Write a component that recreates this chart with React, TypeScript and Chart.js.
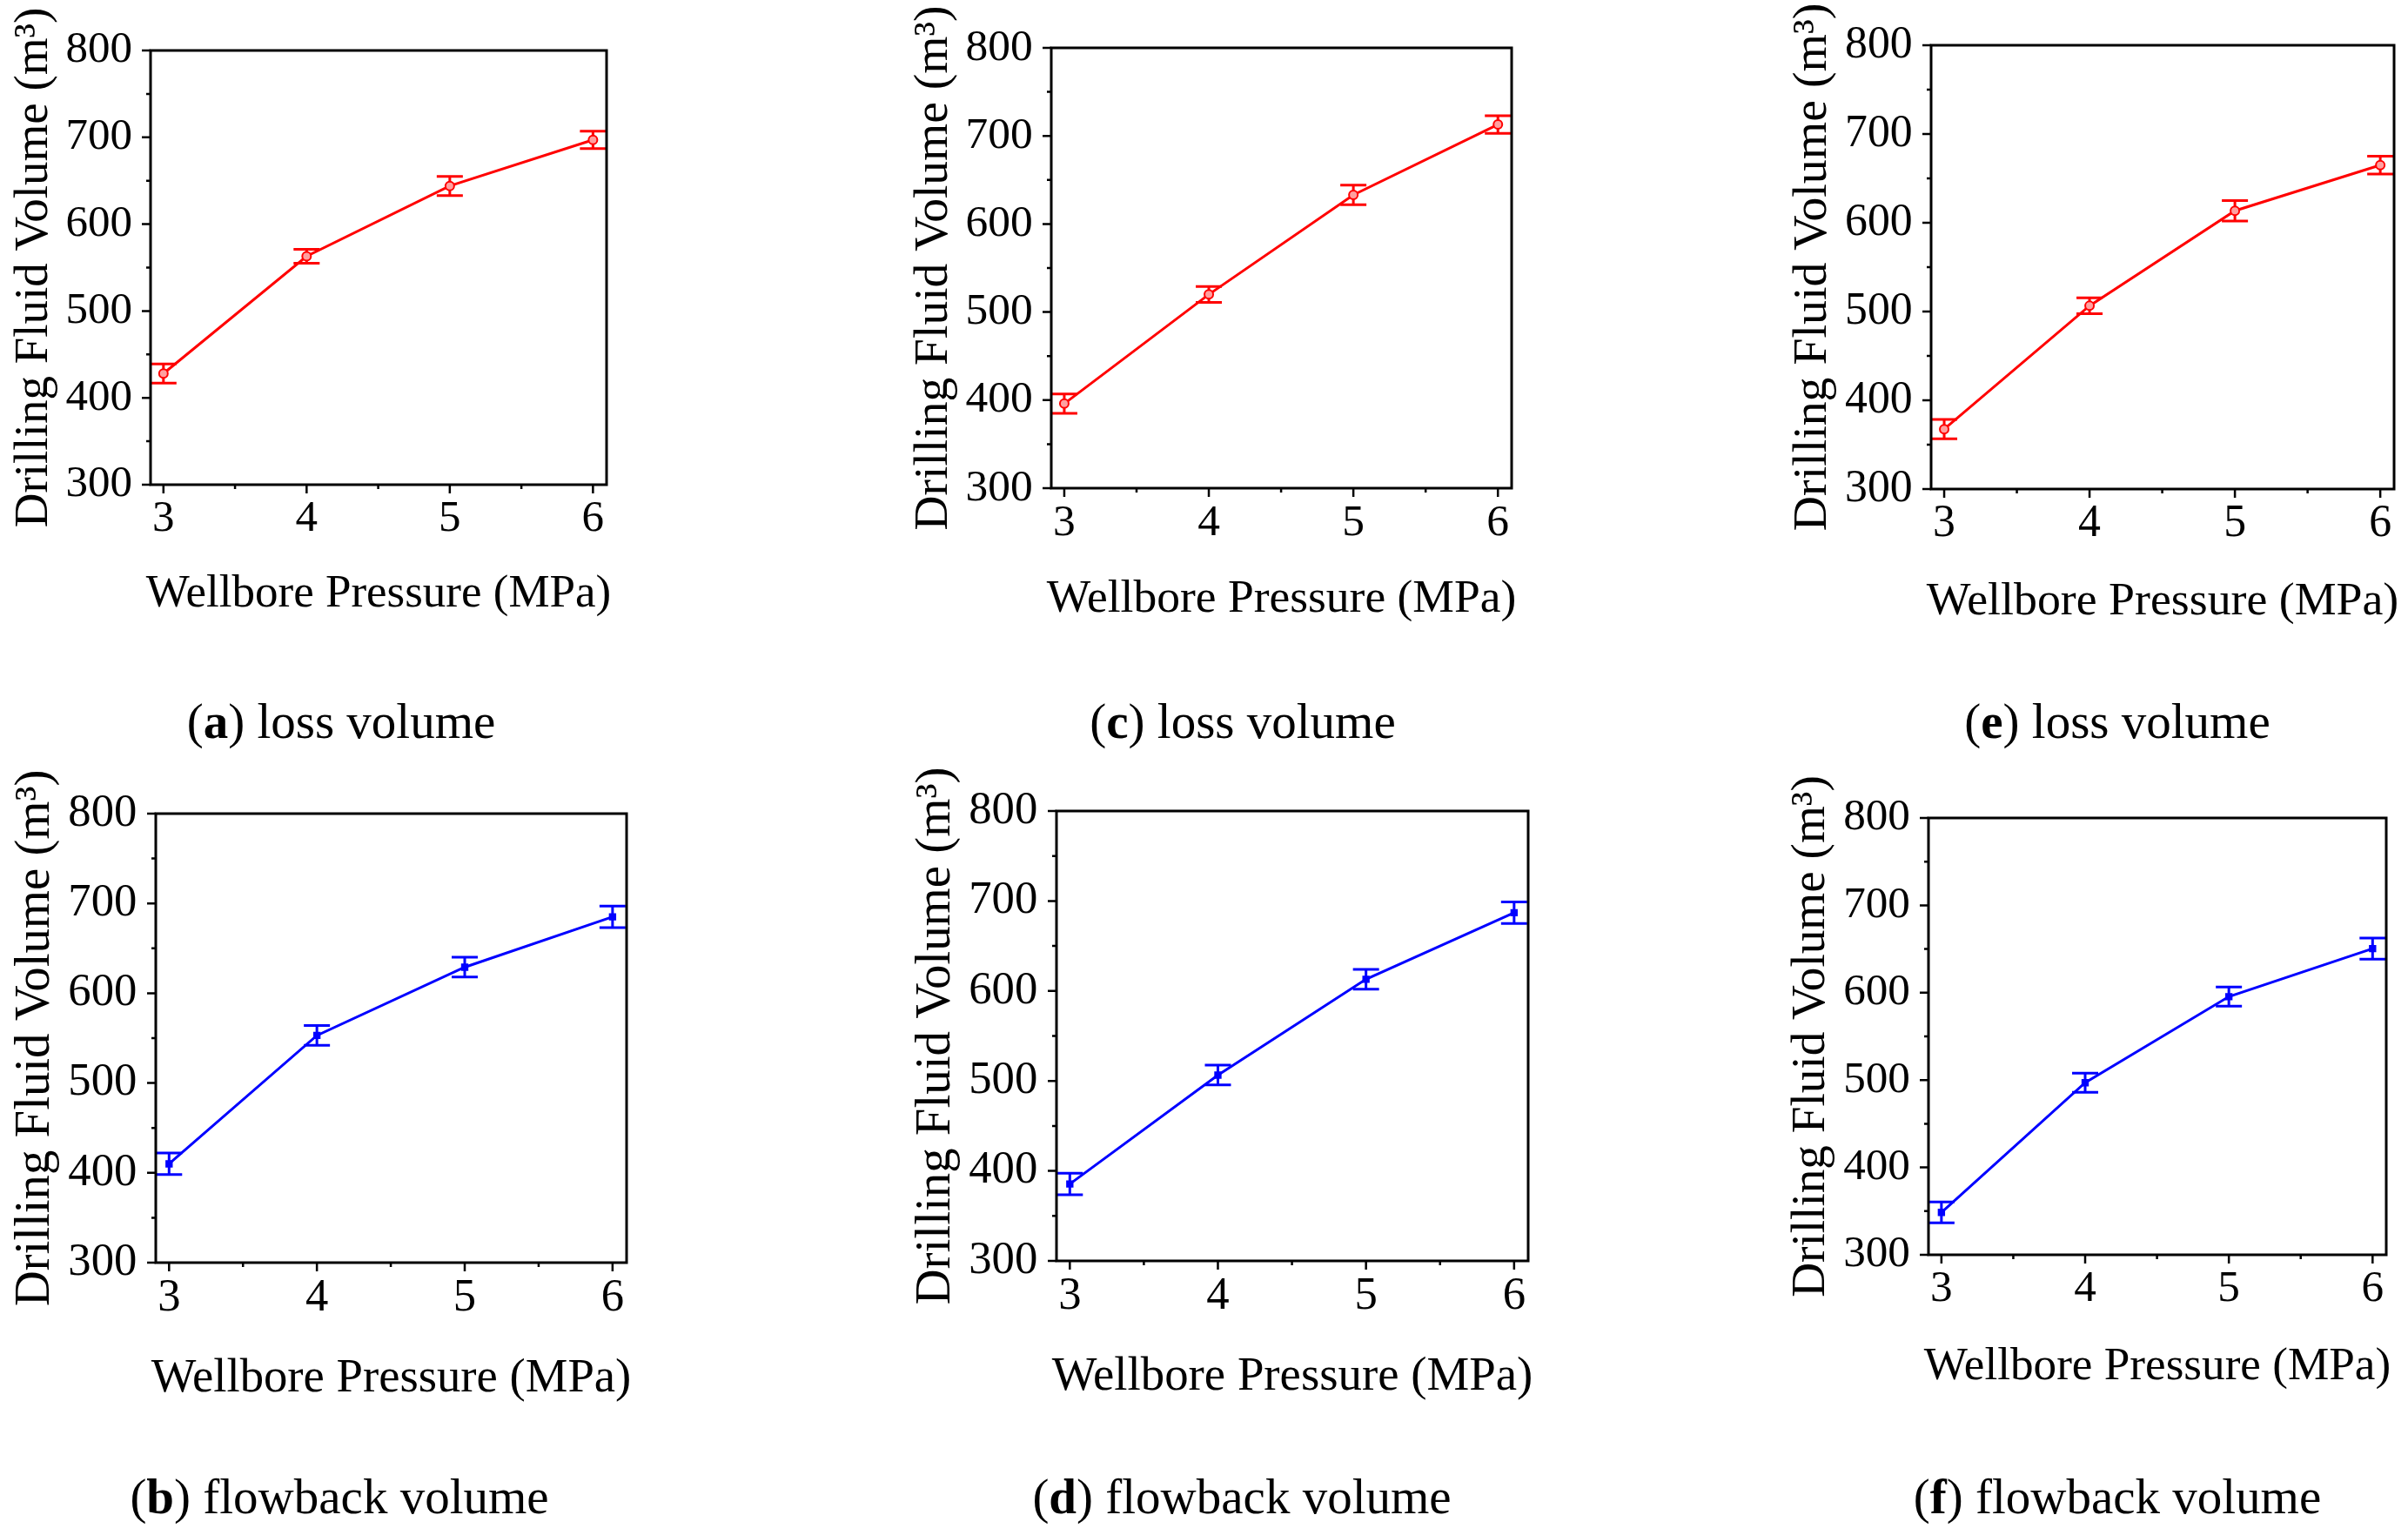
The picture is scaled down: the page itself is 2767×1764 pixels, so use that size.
import React, { useEffect, useRef } from 'react';
import { Chart, registerables } from 'chart.js';

Chart.register(...registerables);

// ---------- data ----------
const pressure = [3, 4, 5, 6];
const xTickValues = [3, 4, 5, 6];
const xMinorTicks = [3.5, 4.5, 5.5];
const yTickValues = [300, 400, 500, 600, 700, 800];
const yMinorTicks = [350, 450, 550, 650, 750];

const lossA = [428, 563, 644, 697];
const lossAErr = [11, 8, 11, 10];
const lossC = [396, 520, 633, 713];
const lossCErr = [11, 9, 11, 10];
const lossE = [367.5, 506.5, 613.5, 665];
const lossEErr = [11, 9, 11.5, 10];

const flowB = [410, 553, 629, 685];
const flowBErr = [12, 11, 11, 12];
const flowD = [385.5, 506.5, 613, 687];
const flowDErr = [12, 11, 11, 12];
const flowF = [348.5, 497, 595.5, 650.5];
const flowFErr = [12, 11, 11, 12];

const xTitle = 'Wellbore Pressure (MPa)';
const yTitle = 'Drilling Fluid Volume (m³)';

// ---------- layout / style ----------
const FONT = '"Liberation Serif", "Times New Roman", serif';
const X_MIN = 2.91;
const X_MAX = 6.095;
const Y_MIN = 300;
const Y_MAX = 800;
const YW = 175; // width reserved for y axis
const XH = 175; // height reserved for x axis
const PT = 60;
const CAP = 15;

const RED = '#ff0000';
const BLUE = '#0000ff';

type PanelCfg = {
  L: number; T: number; R: number; B: number; tb: number;
  values: number[]; errors: number[];
  color: string; kind: 'circle' | 'rect';
};

const panels: PanelCfg[] = [
  { L: 173, T: 58, R: 697, B: 557, tb: 140, values: lossA, errors: lossAErr, color: RED, kind: 'circle' },
  { L: 1208, T: 55, R: 1737, B: 561, tb: 142, values: lossC, errors: lossCErr, color: RED, kind: 'circle' },
  { L: 2219, T: 52, R: 2751, B: 562, tb: 144, values: lossE, errors: lossEErr, color: RED, kind: 'circle' },
  { L: 179, T: 935, R: 720, B: 1451, tb: 148, values: flowB, errors: flowBErr, color: BLUE, kind: 'rect' },
  { L: 1214, T: 932, R: 1756, B: 1449, tb: 148, values: flowD, errors: flowDErr, color: BLUE, kind: 'rect' },
  { L: 2216, T: 940, R: 2742, B: 1442, tb: 143, values: flowF, errors: flowFErr, color: BLUE, kind: 'rect' },
];

const captions = [
  { letter: 'a', text: ' loss volume', cx: 392, cy: 833 },
  { letter: 'c', text: ' loss volume', cx: 1428, cy: 833 },
  { letter: 'e', text: ' loss volume', cx: 2433, cy: 833 },
  { letter: 'b', text: ' flowback volume', cx: 390, cy: 1724 },
  { letter: 'd', text: ' flowback volume', cx: 1427, cy: 1724 },
  { letter: 'f', text: ' flowback volume', cx: 2433, cy: 1724 },
];

const errorBarPlugin = {
  id: 'errorBars',
  beforeDatasetsDraw(chart: any, _args: any, opts: any) {
    const { ctx, chartArea } = chart;
    const x = chart.scales.x;
    const y = chart.scales.y;
    ctx.save();
    ctx.beginPath();
    ctx.rect(chartArea.left, chartArea.top, chartArea.right - chartArea.left, chartArea.bottom - chartArea.top);
    ctx.clip();
    ctx.strokeStyle = opts.color;
    ctx.lineWidth = 3;
    pressure.forEach((p, i) => {
      const px = x.getPixelForValue(p);
      const top = y.getPixelForValue(opts.values[i] + opts.errors[i]);
      const bot = y.getPixelForValue(opts.values[i] - opts.errors[i]);
      ctx.beginPath();
      ctx.moveTo(px, top);
      ctx.lineTo(px, bot);
      ctx.moveTo(px - CAP, top);
      ctx.lineTo(px + CAP, top);
      ctx.moveTo(px - CAP, bot);
      ctx.lineTo(px + CAP, bot);
      ctx.stroke();
    });
    ctx.restore();
  },
};

const framePlugin = {
  id: 'frame',
  afterDraw(chart: any, _args: any, opts: any) {
    const { ctx, chartArea } = chart;
    const x = chart.scales.x;
    const y = chart.scales.y;
    const { left, top, right, bottom } = chartArea;
    ctx.save();
    ctx.strokeStyle = '#000';
    ctx.lineWidth = 3;
    ctx.strokeRect(left, top, right - left, bottom - top);
    ctx.lineWidth = 2.5;
    ctx.beginPath();
    yTickValues.forEach((v) => {
      const py = y.getPixelForValue(v);
      ctx.moveTo(left, py);
      ctx.lineTo(left - 10, py);
    });
    yMinorTicks.forEach((v) => {
      const py = y.getPixelForValue(v);
      ctx.moveTo(left, py);
      ctx.lineTo(left - 5, py);
    });
    xTickValues.forEach((v) => {
      const px = x.getPixelForValue(v);
      ctx.moveTo(px, bottom);
      ctx.lineTo(px, bottom + 10);
    });
    xMinorTicks.forEach((v) => {
      const px = x.getPixelForValue(v);
      ctx.moveTo(px, bottom);
      ctx.lineTo(px, bottom + 5);
    });
    ctx.stroke();
    // x axis title (drawn without width compression)
    ctx.fillStyle = '#000';
    ctx.font = `${opts.size}px ${FONT}`;
    ctx.textAlign = 'center';
    ctx.textBaseline = 'alphabetic';
    ctx.fillText(opts.text, (left + right) / 2, bottom + opts.offset);
    ctx.restore();
  },
};

function Panel({ cfg }: { cfg: PanelCfg }) {
  const ref = useRef<HTMLCanvasElement>(null);
  const k = (cfg.R - cfg.L) / 524;
  const PR = Math.min(19, 2767 - cfg.R);
  const w = cfg.R - cfg.L + YW + PR;
  const h = cfg.B - cfg.T + PT + XH;
  useEffect(() => {
    const canvas = ref.current!;
    const tickSize = 51 * k;
    const yTitleSize = 55 * k;
    const chart = new Chart(canvas, {
      type: 'line',
      data: {
        datasets: [
          {
            data: pressure.map((p, i) => ({ x: p, y: cfg.values[i] })),
            borderColor: cfg.color,
            borderWidth: 3,
            pointStyle: cfg.kind,
            pointRadius: cfg.kind === 'circle' ? 5 : 4.5,
            pointBorderWidth: 2,
            pointBorderColor: cfg.color,
            pointBackgroundColor: cfg.kind === 'circle' ? '#ffa0a0' : cfg.color,
            tension: 0,
            fill: false,
          },
        ],
      },
      options: {
        responsive: false,
        animation: false,
        devicePixelRatio: 1,
        layout: { padding: { top: PT, right: PR, left: 0, bottom: 0 } },
        plugins: {
          legend: { display: false },
          tooltip: { enabled: false },
          errorBars: { values: cfg.values, errors: cfg.errors, color: cfg.color },
          frame: { text: xTitle, size: 53 * k, offset: cfg.tb },
        } as any,
        scales: {
          x: {
            type: 'linear',
            min: X_MIN,
            max: X_MAX,
            afterBuildTicks: (s: any) => {
              s.ticks = xTickValues.map((v) => ({ value: v }));
            },
            afterFit: (s: any) => {
              s.height = XH;
            },
            grid: { display: false, drawTicks: false },
            border: { display: false },
            ticks: {
              padding: 9 * k,
              color: '#000',
              font: { family: FONT, size: tickSize },
              maxRotation: 0,
              callback: (v: any) => String(v),
            },
            title: { display: false },
          },
          y: {
            type: 'linear',
            min: Y_MIN,
            max: Y_MAX,
            afterBuildTicks: (s: any) => {
              s.ticks = yTickValues.map((v) => ({ value: v }));
            },
            afterFit: (s: any) => {
              s.width = YW;
            },
            grid: { display: false, drawTicks: false },
            border: { display: false },
            ticks: {
              padding: 21 * k,
              color: '#000',
              font: { family: FONT, size: tickSize },
              callback: (v: any) => String(v),
            },
            title: {
              display: true,
              text: yTitle,
              color: '#000',
              font: { family: FONT, size: yTitleSize },
              padding: { top: YW - 166.6 * k, bottom: 0 },
            },
          },
        },
      } as any,
      plugins: [errorBarPlugin, framePlugin],
    });
    return () => chart.destroy();
  }, []);
  return (
    <canvas
      ref={ref}
      width={w}
      height={h}
      style={{ position: 'absolute', left: cfg.L - YW, top: cfg.T - PT, width: w, height: h }}
    />
  );
}

export default function App() {
  useEffect(() => {
    document.body.style.margin = '0';
  }, []);
  return (
    <div
      style={{
        position: 'absolute',
        left: 0,
        top: 0,
        width: 2767,
        height: 1764,
        background: '#fff',
        overflow: 'hidden',
        fontFamily: FONT,
      }}
    >
      {panels.map((p, i) => (
        <Panel key={i} cfg={p} />
      ))}
      {captions.map((c, i) => (
        <div
          key={'c' + i}
          style={{
            position: 'absolute',
            left: c.cx,
            top: c.cy - 33,
            transform: 'translateX(-50%)',
            fontSize: 57,
            lineHeight: 1,
            whiteSpace: 'nowrap',
            color: '#000',
            fontFamily: FONT,
          }}
        >
          (<b>{c.letter}</b>){c.text}
        </div>
      ))}
    </div>
  );
}
